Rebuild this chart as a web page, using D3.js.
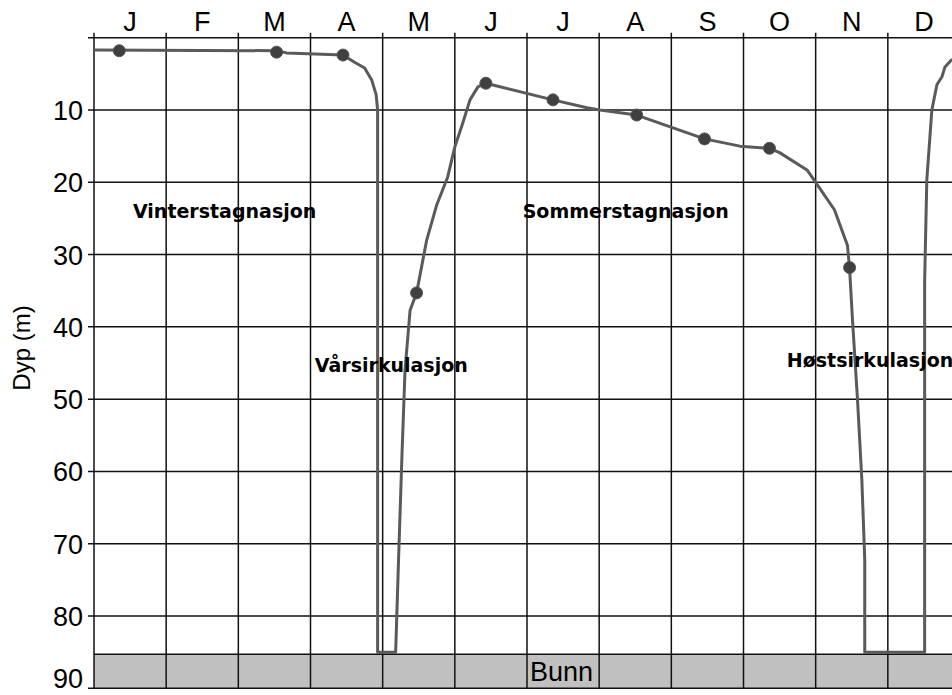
<!DOCTYPE html>
<html>
<head>
<meta charset="UTF-8">
<title>Dyp gjennom året</title>
<script src="https://d3js.org/d3.v7.min.js"></script>
<style>
  body { margin: 0; background: #fff; }
  svg { display: block; }
</style>
</head>
<body>
<svg id="chart" width="952" height="695"></svg>
<script>
// month labels (one per month column)
const months = ["J", "F", "M", "A", "M", "J", "J", "A", "S", "O", "N", "D"];
// depth ticks (m)
const depthTicks = [10, 20, 30, 40, 50, 60, 70, 80, 90];
// bottom of the lake (m)
const bottomDepth = 85.3;

// measured points: [month position, depth m]
const samples = [
  [0.35, 1.8], [2.53, 2.0], [3.45, 2.4], [4.47, 35.3], [5.43, 6.3],
  [6.36, 8.6], [7.52, 10.7], [8.46, 14.0], [9.36, 15.3], [10.47, 31.8]
];

// drawn curve: [month position, depth m]
const curve = [
  [0, 1.7], [2.53, 1.8], [2.67, 2.1], [3.45, 2.4], [3.61, 3.4], [3.75, 4.2],
  [3.85, 5.9], [3.91, 7.9], [3.93, 10.0], [3.93, 85.0], [4.18, 85.0],
  [4.22, 72.2], [4.27, 57.0], [4.31, 46.0], [4.38, 37.7], [4.47, 35.3],
  [4.61, 28.0], [4.75, 23.1], [4.90, 19.3], [5.0, 15.1], [5.10, 12.1],
  [5.21, 8.6], [5.32, 6.8], [5.43, 6.3], [6.36, 8.6], [6.83, 9.7],
  [7.01, 10.0], [7.52, 10.7], [8.46, 14.0], [8.95, 15.0], [9.36, 15.3],
  [9.50, 15.9], [9.88, 18.3], [10.0, 20.0], [10.26, 23.8], [10.44, 28.7],
  [10.47, 31.9], [10.51, 39.0], [10.58, 50.1], [10.64, 61.2], [10.68, 72.2],
  [10.68, 85.0], [11.51, 85.0], [11.51, 33.8], [11.54, 19.7], [11.61, 10.0],
  [11.68, 6.5], [11.75, 5.4], [11.79, 4.1], [11.88, 3.1], [12.0, 2.7]
];

// phase labels: text, month position, depth of baseline
const phases = [
  ["Vinterstagnasjon", 0.54, 25.0],
  ["Sommerstagnasjon", 5.94, 25.0],
  ["Vårsirkulasjon", 3.06, 46.2],
  ["Høstsirkulasjon", 9.6, 45.5]
];

const svg = d3.select("#chart");
const x = d3.scaleLinear().domain([0, 12]).range([94, 960]);
const y = d3.scaleLinear().domain([0, 90]).range([37.7, 688.3]);
const axisFont = "'Liberation Sans', Arial, sans-serif";
const gridColor = "#111";

// bottom area
svg.append("rect")
  .attr("x", x(0)).attr("y", y(bottomDepth))
  .attr("width", x(12) - x(0)).attr("height", y(90) - y(bottomDepth))
  .attr("fill", "#c0c0c0");

// horizontal gridlines
const grid = svg.append("g");
grid.selectAll("line.h")
  .data([0].concat(depthTicks))
  .join("line")
  .attr("x1", x(0) - 6).attr("x2", x(12))
  .attr("y1", d => y(d)).attr("y2", d => y(d))
  .attr("stroke", gridColor).attr("stroke-width", 1.5);
grid.append("line")
  .attr("x1", x(0)).attr("x2", x(12))
  .attr("y1", y(bottomDepth)).attr("y2", y(bottomDepth))
  .attr("stroke", gridColor).attr("stroke-width", 1.5);

// vertical gridlines at month boundaries
grid.selectAll("line.v")
  .data(d3.range(0, 13))
  .join("line")
  .attr("x1", d => x(d)).attr("x2", d => x(d))
  .attr("y1", y(0) - 5).attr("y2", y(90))
  .attr("stroke", gridColor).attr("stroke-width", 1.5);

// month labels
svg.append("g").selectAll("text")
  .data(months)
  .join("text")
  .attr("x", (d, i) => x(i + 0.5))
  .attr("y", 31)
  .attr("text-anchor", "middle")
  .attr("font-family", axisFont)
  .attr("font-size", 27)
  .text(d => d);

// depth labels (the last one is kept inside the picture)
svg.append("g").selectAll("text")
  .data(depthTicks)
  .join("text")
  .attr("x", 83)
  .attr("y", d => Math.min(y(d) + 10, 688))
  .attr("text-anchor", "end")
  .attr("font-family", axisFont)
  .attr("font-size", 27)
  .text(d => d);

svg.append("text")
  .attr("transform", "translate(30,348) rotate(-90)")
  .attr("text-anchor", "middle")
  .attr("font-family", axisFont)
  .attr("font-size", 24)
  .text("Dyp (m)");

// curve
const line = d3.line().x(d => x(d[0])).y(d => y(d[1]));
svg.append("path")
  .datum(curve)
  .attr("d", line)
  .attr("fill", "none")
  .attr("stroke", "#5a5a5a")
  .attr("stroke-width", 3)
  .attr("stroke-linejoin", "round");

// sample points
svg.append("g").selectAll("circle")
  .data(samples)
  .join("circle")
  .attr("cx", d => x(d[0]))
  .attr("cy", d => y(d[1]))
  .attr("r", 6)
  .attr("fill", "#404040")
  .attr("stroke", "#555")
  .attr("stroke-width", 1);

// phase labels
svg.append("g").selectAll("text")
  .data(phases)
  .join("text")
  .attr("x", d => x(d[1]))
  .attr("y", d => y(d[2]))
  .attr("font-family", "'DejaVu Sans', Verdana, sans-serif")
  .attr("font-weight", "bold")
  .attr("font-size", 19)
  .text(d => d[0]);

svg.append("text")
  .attr("x", x(6.04))
  .attr("y", y(89.0))
  .attr("font-family", axisFont)
  .attr("font-size", 27)
  .text("Bunn");
</script>
</body>
</html>
